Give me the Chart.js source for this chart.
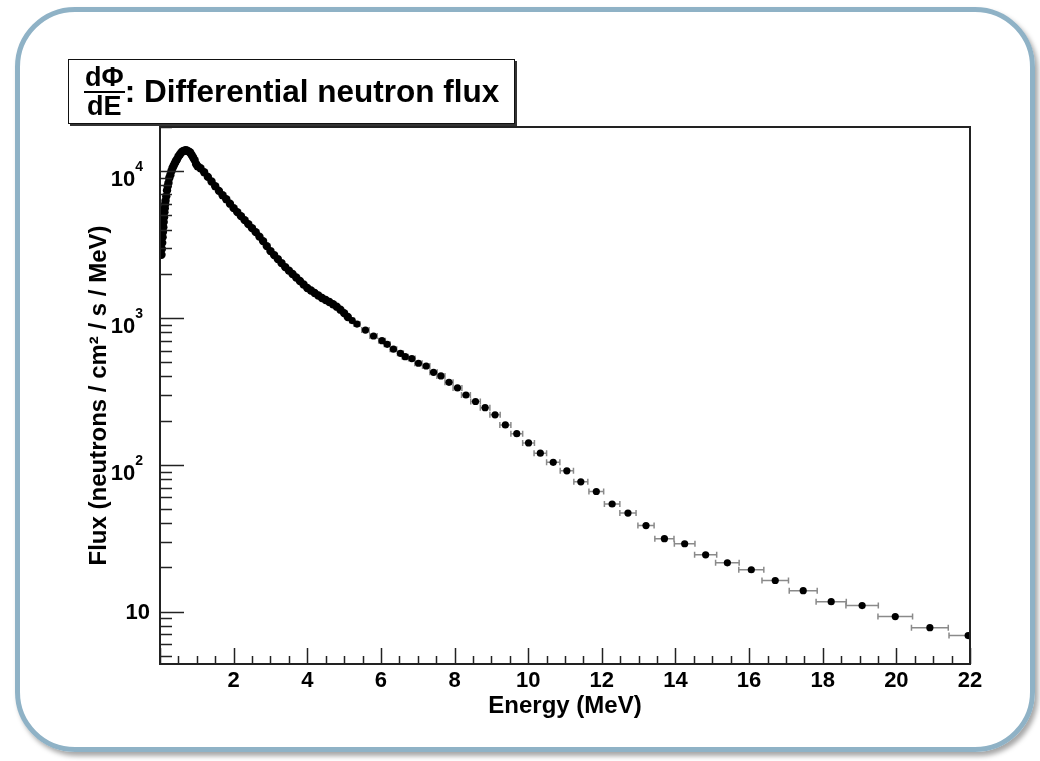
<!DOCTYPE html>
<html>
<head>
<meta charset="utf-8">
<title>Differential neutron flux</title>
<script src="https://cdn.jsdelivr.net/npm/chart.js@4.4.1/dist/chart.umd.min.js"></script>
<style>
  html, body { margin: 0; padding: 0; background: #fff; }
  body { width: 1040px; height: 761px; position: relative; overflow: hidden; }
  #frame {
    position: absolute; left: 15px; top: 7px; width: 1010px; height: 735px;
    border: 5.5px solid #8fb2c6; border-radius: 60px;
    box-shadow: 3px 4px 5px rgba(0,0,0,0.35);
  }
  #chart { position: absolute; left: 0; top: 0; }
  #ttl {
    position: absolute; left: 68px; top: 59px; width: 447px; height: 65px;
    background: #fff; border: 1.5px solid #111; box-shadow: 2px 2px 0 #333;
    display: flex; align-items: center; padding-left: 15px; box-sizing: border-box;
    font: bold 31.5px "Liberation Sans", Arial, sans-serif; color: #000; white-space: nowrap;
  }
  #ttl .frac { display: inline-flex; flex-direction: column; align-items: center; font-size: 27px; line-height: 25px; }
  #ttl .frac .num { border-bottom: 2px solid #000; padding: 0 1px 1px; }
  #ttl .frac .den { padding-top: 1px; }
</style>
</head>
<body>
<div id="frame"></div>
<canvas id="chart" width="1040" height="761"></canvas>
<div id="ttl"><span class="frac"><span class="num">dΦ</span><span class="den">dE</span></span><span>: Differential neutron flux</span></div>

<script>
// Spectrum. Below ~5 MeV the bins are so narrow that the
// points merge into one thick curve, above that every bin is visible.
const coreEnergy = [
  0.04, 0.05, 0.06, 0.07, 0.08, 0.09, 0.10, 0.11, 0.12, 0.13, 0.14, 0.15,
  0.17, 0.19, 0.21, 0.23, 0.25, 0.28, 0.31, 0.34, 0.37, 0.40, 0.43, 0.46,
  0.50, 0.54, 0.58, 0.62, 0.66, 0.70, 0.74, 0.78, 0.82, 0.86, 0.90, 0.94,
  0.98, 1.02, 1.10, 1.20, 1.30, 1.40, 1.50, 1.60, 1.70, 1.80, 1.90, 2.00,
  2.10, 2.20, 2.30, 2.40, 2.50, 2.60, 2.70, 2.80, 2.90, 3.00, 3.10, 3.20,
  3.30, 3.40, 3.50, 3.60, 3.70, 3.80, 3.90, 4.00, 4.10, 4.20, 4.30, 4.40,
  4.50, 4.60, 4.70, 4.80, 4.90, 5.00, 5.10
];
const coreFlux = [
  2700, 2950, 3250, 3550, 3850, 4150, 4500, 4850, 5250, 5600, 5950, 6300,
  6750, 7400, 7900, 8300, 8950, 9400, 10000, 10500, 10900, 11300, 11700, 12000,
  12600, 13000, 13400, 13700, 13800, 13900, 13800, 13600, 13400, 12900, 12400, 11900,
  11200, 10800, 10480, 9845, 9146, 8510, 7907, 7345, 6866, 6450, 6009, 5602,
  5262, 4942, 4642, 4360, 4095, 3846, 3584, 3340, 3089, 2857, 2683, 2520,
  2367, 2223, 2104, 1992, 1886, 1785, 1690, 1600, 1539, 1480, 1423, 1368,
  1326, 1285, 1240, 1195, 1140, 1080, 1015
];

const tailEnergy = [
  5.22, 5.35, 5.58, 5.80, 6.03, 6.17, 6.34, 6.53, 6.66, 6.84, 7.02, 7.23,
  7.43, 7.63, 7.85, 8.08, 8.31, 8.57, 8.83, 9.10, 9.38, 9.69, 10.01, 10.33,
  10.68, 11.05, 11.43, 11.85, 12.28, 12.71, 13.20, 13.70, 14.25, 14.82, 15.41, 16.06,
  16.71, 17.47, 18.23, 19.07, 19.97, 20.91, 21.95
];
const tailFlux = [
  960, 910, 828, 754, 701, 662, 613, 575, 545, 529, 492, 471,
  427, 403, 365, 334, 299, 270, 245, 219, 187, 163, 141, 120,
  104, 91, 76.6, 65.8, 54.1, 46.9, 38.6, 31.4, 29.0, 24.4, 21.5, 19.3,
  16.3, 13.9, 11.7, 11.0, 9.25, 7.78, 6.87
];
// half bin width (MeV), drawn as the grey horizontal error bars
const tailHalfWidth = [
  0.06, 0.08, 0.10, 0.10, 0.09, 0.08, 0.09, 0.08, 0.08, 0.09, 0.10, 0.10,
  0.10, 0.11, 0.11, 0.12, 0.12, 0.13, 0.13, 0.14, 0.15, 0.16, 0.16, 0.17,
  0.18, 0.18, 0.19, 0.20, 0.21, 0.22, 0.22, 0.26, 0.28, 0.30, 0.32, 0.34,
  0.36, 0.38, 0.41, 0.44, 0.47, 0.50, 0.52
];

const xTickLabels = [2, 4, 6, 8, 10, 12, 14, 16, 18, 20, 22];
const yTickValues = [10, 100, 1000, 10000];
const yTickExponent = ['', '2', '3', '4'];

const FONT = '"Liberation Sans", Arial, sans-serif';

function toPoints(xs, ys) {
  return xs.map((x, i) => ({ x: x, y: ys[i] }));
}

// grey horizontal bars showing the bin width, under the markers
const errorBars = {
  id: 'errorBars',
  beforeDatasetsDraw(chart) {
    const { ctx, scales: { x, y }, chartArea } = chart;
    ctx.save();
    ctx.beginPath();
    ctx.rect(chartArea.left, chartArea.top, chartArea.width, chartArea.height);
    ctx.clip();
    ctx.strokeStyle = '#8a8a8a';
    ctx.lineWidth = 1.5;
    tailEnergy.forEach((e, i) => {
      const py = y.getPixelForValue(tailFlux[i]);
      const x0 = x.getPixelForValue(e - tailHalfWidth[i]);
      const x1 = x.getPixelForValue(e + tailHalfWidth[i]);
      ctx.beginPath();
      ctx.moveTo(x0, py); ctx.lineTo(x1, py);
      ctx.moveTo(x0, py - 3); ctx.lineTo(x0, py + 3);
      ctx.moveTo(x1, py - 3); ctx.lineTo(x1, py + 3);
      ctx.stroke();
    });
    ctx.restore();
  }
};

// ROOT style frame: ticks pointing inwards, labels with superscripts
const rootAxes = {
  id: 'rootAxes',
  afterDatasetsDraw(chart) {
    const { ctx, scales: { x, y }, chartArea: a } = chart;
    ctx.save();
    ctx.strokeStyle = '#222';
    ctx.lineWidth = 1.5;

    ctx.beginPath();
    for (let v = x.min; v <= x.max + 1e-9; v += 0.5) {
      const px = Math.round(x.getPixelForValue(v)) + 0.5;
      const len = (v % 2 === 0) ? 16 : 8;
      ctx.moveTo(px, a.bottom); ctx.lineTo(px, a.bottom - len);
    }
    for (let e = 0; e <= 4; e++) {
      for (let m = 1; m <= 9; m++) {
        const v = m * Math.pow(10, e);
        if (v < y.min || v > y.max) continue;
        const py = Math.round(y.getPixelForValue(v)) + 0.5;
        const len = (m === 1) ? 24 : 12;
        ctx.moveTo(a.left, py); ctx.lineTo(a.left + len, py);
      }
    }
    ctx.stroke();

    ctx.lineWidth = 2;
    ctx.strokeRect(a.left, a.top, a.right - a.left, a.bottom - a.top);
    ctx.restore();
  },
  afterDraw(chart) {
    const { ctx, scales: { y } } = chart;
    ctx.save();
    ctx.fillStyle = '#000';
    ctx.textAlign = 'right';
    ctx.textBaseline = 'middle';
    yTickValues.forEach((v, i) => {
      const py = y.getPixelForValue(v);
      const sup = yTickExponent[i];
      if (!sup) {
        ctx.font = 'bold 22px ' + FONT;
        ctx.fillText('10', 150, py + 1);
        return;
      }
      ctx.font = 'bold 14px ' + FONT;
      const w = ctx.measureText(sup).width;
      ctx.fillText(sup, 143, py - 4);
      ctx.font = 'bold 22px ' + FONT;
      ctx.fillText('10', 143 - w, py + 9);
    });
    ctx.restore();
  }
};

document.addEventListener('DOMContentLoaded', function() {
  const ctx = document.getElementById('chart').getContext('2d');

  new Chart(ctx, {
    type: 'scatter',
    data: {
      datasets: [
        {
          label: 'core',
          data: toPoints(coreEnergy, coreFlux),
          pointRadius: 4.2,
          pointBackgroundColor: '#000',
          pointBorderWidth: 0
        },
        {
          label: 'tail',
          data: toPoints(tailEnergy, tailFlux),
          pointRadius: 3.6,
          pointBackgroundColor: '#000',
          pointBorderWidth: 0
        }
      ]
    },
    options: {
      responsive: false,
      animation: false,
      devicePixelRatio: 1,
      layout: { padding: { top: 127, right: 70, bottom: 0, left: 0 } },
      plugins: {
        legend: { display: false },
        tooltip: { enabled: false }
      },
      scales: {
        x: {
          type: 'linear',
          min: 0,
          max: 22,
          grid: { display: false, drawTicks: false },
          border: { display: false },
          ticks: {
            stepSize: 2,
            autoSkip: false,
            maxRotation: 0,
            padding: 4,
            color: '#000',
            font: { family: FONT, size: 22, weight: 'bold' },
            callback: v => xTickLabels.includes(v) ? String(v) : ''
          },
          title: {
            display: true,
            text: 'Energy (MeV)',
            color: '#000',
            font: { family: FONT, size: 24, weight: 'bold' },
            padding: { top: 0, bottom: 40 }
          },
          afterFit: s => { s.height = 97; }
        },
        y: {
          type: 'logarithmic',
          min: 4.4,
          max: 20000,
          grid: { display: false, drawTicks: false },
          border: { display: false },
          ticks: { display: false },
          title: {
            display: true,
            text: 'Flux (neutrons / cm² / s / MeV)',
            color: '#000',
            font: { family: FONT, size: 24, weight: 'bold' },
            padding: { top: 85, bottom: 0 }
          },
          afterFit: s => { s.width = 160; }
        }
      }
    },
    plugins: [errorBars, rootAxes]
  });
});
</script>
</body>
</html>
